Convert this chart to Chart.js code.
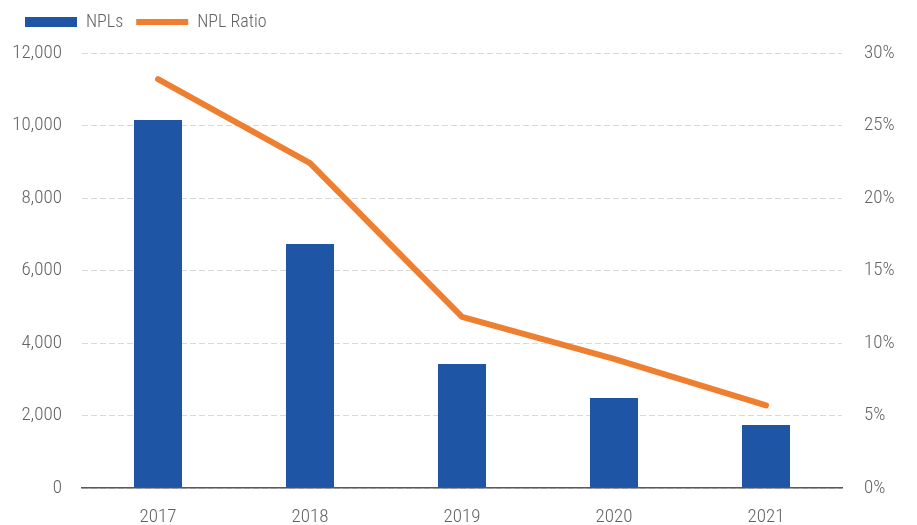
<!DOCTYPE html>
<html>
<head>
<meta charset="utf-8">
<script src="https://cdn.jsdelivr.net/npm/chart.js@4.4.1/dist/chart.umd.min.js"></script>
<style>
  html, body { margin: 0; padding: 0; background: #fff; }
  #wrap { width: 917px; height: 525px; }
</style>
</head>
<body>
<div id="wrap"><canvas id="nplChart"></canvas></div>
<script>
const years = ['2017', '2018', '2019', '2020', '2021'];
const npls = [10150, 6730, 3420, 2480, 1740];      // NPL volume
const nplRatio = [28.2, 22.4, 11.8, 8.9, 5.7];     // NPL ratio, %

const FONT = '"Roboto Condensed", "Liberation Sans Narrow", "DejaVu Sans Condensed", Roboto, sans-serif';
const textGray = '#636363';
const tickFont = { family: FONT, size: 19, weight: 300 };

// extra room between legend row and plot
const legendGap = {
    id: 'legendGap',
    afterInit(chart) {
        const fit = chart.legend.fit;
        chart.legend.fit = function () {
            fit.call(this);
            this.height += 12;
        };
    }
};

const ctx = document.getElementById('nplChart').getContext('2d');
new Chart(ctx, {
    type: 'bar',
    data: {
        labels: years,
        datasets: [{
            label: 'NPLs',
            data: npls,
            backgroundColor: '#1f55a5',
            borderWidth: 0,
            barPercentage: 0.316,
            categoryPercentage: 1,
            yAxisID: 'y',
            pointStyle: 'rect',
            order: 2
        }, {
            type: 'line',
            label: 'NPL Ratio',
            data: nplRatio,
            borderColor: '#ef7f30',
            backgroundColor: '#ef7f30',
            borderWidth: 6,
            borderCapStyle: 'round',
            borderJoinStyle: 'round',
            pointRadius: 0,
            pointStyle: 'line',
            tension: 0,
            yAxisID: 'y1',
            order: 1
        }]
    },
    options: {
        responsive: true,
        maintainAspectRatio: false,
        animation: false,
        layout: { padding: { left: 12, right: 17, top: 0, bottom: 0 } },
        plugins: {
            legend: {
                position: 'top',
                align: 'start',
                labels: {
                    usePointStyle: true,
                    pointStyleWidth: 52,
                    boxHeight: 10,
                    padding: 13,
                    color: textGray,
                    font: { family: FONT, size: 18, weight: 300 },
                    sort: (a, b) => a.datasetIndex - b.datasetIndex
                }
            },
            tooltip: { enabled: false }
        },
        scales: {
            x: {
                afterFit: scale => { scale.height = 37; },
                grid: { display: false, drawTicks: false },
                border: { display: true, color: '#595959', width: 1.5 },
                ticks: { color: textGray, padding: 18, font: tickFont }
            },
            y: {
                position: 'left',
                min: 0,
                max: 12000,
                afterFit: scale => { scale.width = 70; },
                ticks: {
                    stepSize: 2000,
                    padding: 20,
                    color: textGray,
                    font: tickFont,
                    callback: v => v.toLocaleString('en-US')
                },
                grid: { color: '#d9d9d9', lineWidth: 1, drawTicks: false },
                border: { display: false, dash: [6, 3] }
            },
            y1: {
                position: 'right',
                min: 0,
                max: 30,
                afterFit: scale => { scale.width = 58; },
                ticks: {
                    stepSize: 5,
                    padding: 22,
                    color: textGray,
                    font: tickFont,
                    callback: v => v + '%'
                },
                grid: { display: false, drawTicks: false },
                border: { display: false }
            }
        }
    },
    plugins: [legendGap]
});
</script>
</body>
</html>
